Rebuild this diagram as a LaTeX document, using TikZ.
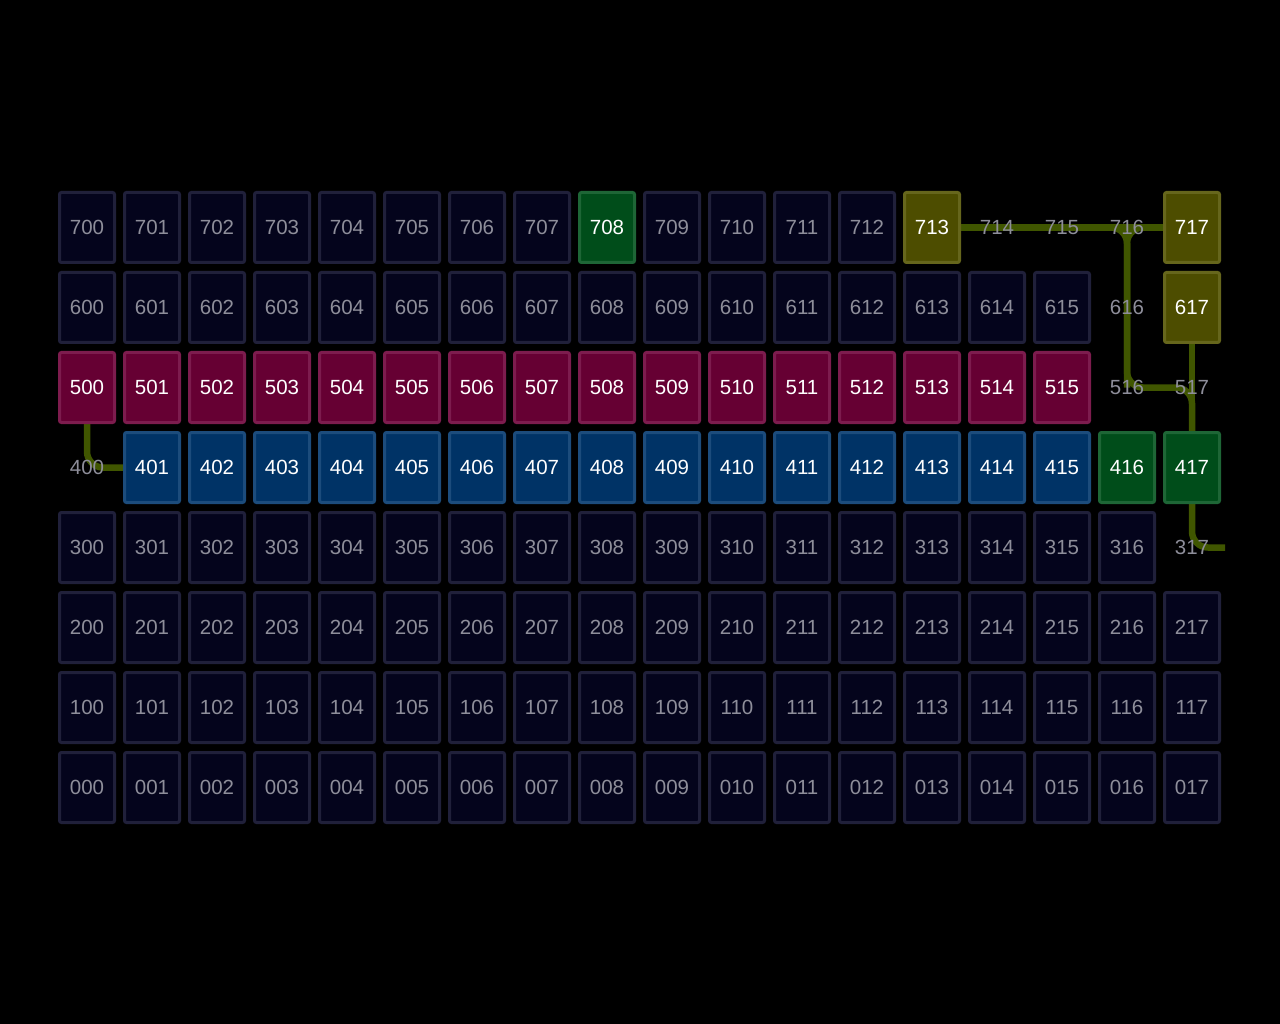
\documentclass[tikz,border=0pt]{standalone}
\usepackage{fontspec}
\setmainfont{Liberation Sans}
\usetikzlibrary{calc}

\definecolor{cellfill}{HTML}{04041C}
\definecolor{celledge}{HTML}{20203A}
\definecolor{celltext}{HTML}{8E8E9A}
\definecolor{magfill}{HTML}{660033}
\definecolor{magedge}{HTML}{7D1C4E}
\definecolor{bluefill}{HTML}{003366}
\definecolor{blueedge}{HTML}{1C4C7C}
\definecolor{greenfill}{HTML}{004D1A}
\definecolor{greenedge}{HTML}{1E6636}
\definecolor{olivefill}{HTML}{4D4D00}
\definecolor{oliveedge}{HTML}{66661C}
\definecolor{routecol}{HTML}{405600}

\pgfdeclarelayer{bg}
\pgfdeclarelayer{links}
\pgfsetlayers{bg,links,main}

\tikzset{
  cell/.style={draw=celledge, fill=cellfill, text=celltext, line width=3pt,
    rounded corners=2pt, minimum width=55pt, minimum height=70pt, inner sep=0pt,
    font=\fontsize{20.5}{24}\selectfont},
  hot/.style={text=white},
  magcell/.style={hot, draw=magedge, fill=magfill},
  bluecell/.style={hot, draw=blueedge, fill=bluefill},
  greencell/.style={hot, draw=greenedge, fill=greenfill},
  olivecell/.style={hot, draw=oliveedge, fill=olivefill},
  gapcell/.style={draw=none, fill=none, text=celltext},
  row5/.style=magcell,
  row4/.style=bluecell,
  st708/.style=greencell, st416/.style=greencell, st417/.style=greencell,
  st713/.style=olivecell, st717/.style=olivecell, st617/.style=olivecell,
  st714/.style=gapcell, st715/.style=gapcell, st716/.style=gapcell,
  st616/.style=gapcell, st516/.style=gapcell, st517/.style=gapcell,
  st400/.style=gapcell, st317/.style=gapcell,
  route/.style={draw=routecol, line width=6.5pt, rounded corners=16pt},
}

\begin{document}
\begin{tikzpicture}[x=1pt,y=1pt]
\useasboundingbox (0,0) rectangle (1280,-1024);
\begin{pgfonlayer}{bg}
\fill[black] (0,0) rectangle (1280,-1024);
\end{pgfonlayer}

% grid of slots, row 7 on top
\foreach \r in {0,...,7}{
  \foreach \c [count=\i from 0] in {00,01,02,03,04,05,06,07,08,09,10,11,12,13,14,15,16,17}{
    \node[cell, row\r/.try, st\r\c/.try] (n\r\c) at ({87+65*\i}, {-227.5-80*(7-\r)}) {\r\c};
  }
}

\coordinate (exit) at (1225,-547.5);

\begin{pgfonlayer}{links}
\draw[route] (n713.east) -- (n717.west);
\draw[route] (n715.center) -- (n716.center) -- (n516.center) -- (n517.center) -- (n417.north);
\draw[route] (n717.west) -- (n716.center) -- (n516.center);
\draw[route] (n617.south) -- (n417.north);
\draw[route] (n417.south) -- (n317.center) -- (exit);
\draw[route] (n500.south) -- (n400.center) -- (n401.west);
\end{pgfonlayer}
\end{tikzpicture}
\end{document}
